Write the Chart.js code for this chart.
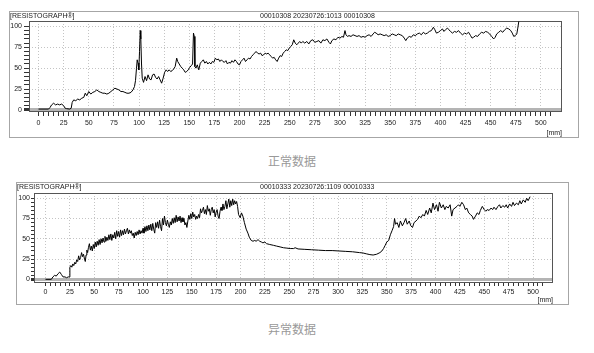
<!DOCTYPE html>
<html>
<head>
<meta charset="utf-8">
<script src="https://cdn.jsdelivr.net/npm/chart.js@4/dist/chart.umd.min.js"></script>
<style>
body { margin: 0; width: 594px; height: 353px; background: #fff; position: relative; overflow: hidden; font-family: "Liberation Sans", Arial, sans-serif; }
.frame { position: absolute; border: 1px solid #a6a6a6; box-sizing: border-box; }
.frame canvas { position: absolute; left: 0; top: 0; }
.hd { position: absolute; top: 0; font-size: 7px; line-height: 8px; color: #222; white-space: nowrap; }
.cap { position: absolute; left: 242px; width: 100px; text-align: center; font: 12px/14px "Noto Sans CJK SC", sans-serif; color: #999; }
</style>
</head>
<body>
<div class="frame" style="left:9px;top:11px;width:570px;height:127px">
  <canvas id="normal" width="568" height="125"></canvas>
  <span class="hd" style="left:0">[RESISTOGRAPH®]</span>
  <span class="hd" style="left:250px">00010308 20230726:1013 00010308</span>
</div>
<div class="cap" style="top:154px">正常数据</div>
<div class="frame" style="left:16px;top:182px;width:553px;height:123px">
  <canvas id="abnormal" width="551" height="121"></canvas>
  <span class="hd" style="left:0">[RESISTOGRAPH®]</span>
  <span class="hd" style="left:243px">00010333 20230726:1109 00010333</span>
</div>
<div class="cap" style="top:322px">异常数据</div>
<script>
// tick labels
const xTickLabels = [0, 25, 50, 75, 100, 125, 150, 175, 200, 225, 250, 275, 300, 325, 350, 375, 400, 425, 450, 475, 500];
const yTickLabels = [0, 25, 50, 75, 100];

// 正常数据 - depth [mm] / amplitude [%]
const normalDepth = [
  0, 10, 11.5, 13, 15, 17, 19, 21, 23, 25, 26.5, 28, 31, 32.5, 33.5, 35, 37, 39, 41, 43,
  45, 46.5, 48, 50, 52, 54, 56, 58, 60, 62, 64, 66, 68, 70, 72, 74, 76, 78, 80, 82,
  84, 86, 88, 90, 92, 94, 95.5, 96.5, 97.5, 98.2, 99, 99.8, 100.5, 101.2, 101.8, 102.5, 103.2, 104.5, 106, 107.5,
  109, 110.5, 112, 113.5, 115, 116.5, 118, 119.5, 121, 122.5, 124, 125.5, 127, 128.5, 130, 131.5, 133, 134.5, 136, 137.5,
  138.5, 140, 141.5, 143, 144.5, 146, 147.5, 149, 150.5, 152, 153.3, 154.2, 155, 155.6, 156.7, 158, 159.5, 161, 162.5, 164,
  165.5, 167, 168.5, 170, 171.5, 173, 174.5, 176, 177.5, 179, 180.5, 182, 183.5, 185, 186.5, 188, 189.5, 191, 192.5, 194,
  195.5, 197, 198.5, 200, 201.5, 203, 204.5, 206, 207.5, 209, 210.5, 212, 213.5, 215, 216.5, 218, 219.5, 221, 222.5, 224,
  225.5, 227, 228.5, 230, 231.5, 233, 234.5, 236, 237.5, 239, 240.5, 242, 243.5, 245, 246.5, 248, 249.5, 251, 252.5, 254,
  255.5, 257, 258.5, 260, 261.5, 263, 265, 267, 269, 271, 273, 275, 277, 279, 281, 283, 285, 287, 289, 290.5,
  292, 294, 296, 298, 300, 302, 303.5, 305, 306, 307.5, 309, 311, 313, 315, 317, 319, 321, 323, 325, 327,
  329, 331, 333, 334.5, 336, 338, 340, 342, 344, 346, 348, 350, 352, 354, 356, 358, 360, 362, 364, 365.5,
  367, 369, 371, 373, 375, 377, 379, 381, 383, 385, 387, 389, 391, 393, 394.5, 396, 398, 400, 402, 403.5,
  405, 407, 408.5, 410, 412, 414, 416, 418, 420, 422, 424, 426, 428, 430, 431.5, 433, 435, 437, 439, 441,
  443, 445, 447, 449, 451, 453, 454.5, 456, 458, 460, 462, 464, 466, 468, 470, 471.5, 473, 474.5, 476, 477, 478
];
const normalValue = [
  1, 1, 3, 6, 8, 6, 7, 6, 7, 5, 2, 1.5, 1, 2, 9, 12, 11, 13, 12, 14,
  15, 20, 17, 22, 19, 21, 22, 24, 22, 21, 20, 20, 19, 20, 22, 24, 26, 25, 24, 22,
  22, 21, 20, 20, 21, 24, 28, 35, 50, 60, 56, 48, 70, 95, 85, 55, 38, 33, 40, 35,
  42, 37, 36, 42, 43, 39, 37, 40, 36, 32, 38, 45, 48, 46, 48, 46, 47, 49, 52, 62,
  58, 55, 52, 50, 48, 45, 46, 48, 51, 53, 55, 92, 88, 52, 50, 54, 48, 56, 58, 60,
  56, 58, 55, 57, 55, 58, 57, 62, 60, 61, 58, 60, 58, 57, 59, 55, 57, 56, 59, 57,
  60, 58, 55, 54, 58, 60, 62, 58, 60, 62, 61, 64, 66, 68, 70, 68, 67, 68, 65, 66,
  68, 67, 68, 66, 64, 62, 63, 60, 58, 62, 65, 64, 68, 70, 72, 71, 74, 76, 78, 84,
  80, 78, 80, 82, 80, 82, 80, 82, 79, 83, 84, 81, 82, 83, 80, 84, 83, 85, 81, 79,
  83, 85, 84, 87, 86, 88, 87, 95, 90, 88, 89, 88, 90, 89, 88, 89, 87, 88, 87, 89,
  90, 88, 91, 93, 92, 90, 91, 90, 89, 90, 88, 89, 91, 90, 89, 91, 90, 89, 86, 83,
  86, 88, 87, 90, 89, 91, 92, 90, 93, 91, 92, 94, 95, 99, 96, 92, 93, 95, 97, 94,
  96, 98, 96, 94, 92, 94, 93, 95, 92, 90, 92, 91, 93, 89, 86, 87, 89, 88, 91, 93,
  92, 94, 93, 91, 88, 85, 87, 91, 93, 95, 93, 96, 98, 97, 95, 92, 88, 89, 91, 98, 106
];

// 异常数据 - depth [mm] / amplitude [%]
const abnormalDepth = [
  0, 6, 7.6, 9.4, 11, 12.9, 14.6, 16.3, 18, 20, 21.6, 23.3, 24.3,
  25, 26, 27, 28, 29, 30, 31, 32, 33, 34, 35, 36, 37, 38, 39, 40, 40.8, 41.6, 42.4, 43.2,
  44, 45, 46, 47, 48, 49, 50, 51, 52, 53, 54, 55, 56, 57, 58, 59, 60, 61, 62, 63,
  64, 65, 66, 67, 68, 69, 70, 71, 72, 73, 74, 75, 76, 77, 78, 79, 80, 81, 82, 83,
  84, 85, 86, 87, 88, 89, 90, 91, 92, 93, 94, 95, 96, 97, 98, 99, 100, 101, 102, 103,
  104, 105, 106, 107, 108, 109, 110, 111, 112, 113, 114, 115, 116, 117, 118, 119, 120, 121, 122, 123,
  124, 125, 126, 127, 128, 129, 130, 131, 132, 133, 134, 135, 136, 137, 138, 139, 140, 141, 142, 143,
  144, 145, 146, 147, 148, 149, 150, 151, 152, 153, 154, 155, 156, 157, 158, 159, 160, 161, 162, 163,
  164, 165, 166, 167, 168, 169, 170, 171, 172, 173, 174, 175, 176, 177, 178, 179, 180, 181, 182, 183,
  184, 185, 186, 187, 188, 189, 190, 191, 192, 193, 194, 195, 196, 197,
  198, 199.7, 201, 202.4, 204, 205.8,
  207.6, 209, 211, 212.8, 214.6, 216, 218, 219.7, 221.5, 223, 225, 226.7, 230, 233.7, 237, 240.6, 244, 247.6, 251, 254.5,
  256, 259, 266, 273, 280, 287, 294, 301, 308, 315, 322, 325.7, 329, 332.7, 336, 339.7, 343, 345, 346.7, 348.4,
  350, 352, 353.7, 355.4, 357, 358, 359, 360.7, 362.4, 364, 366, 367.7, 369.4, 371, 373, 374.7, 376.4, 378, 380, 381.6,
  383.4, 385, 387, 388.6, 390.4, 392, 394, 395.6, 397.4, 399, 401, 402.6, 404, 406, 407.9, 409.6, 411, 413, 415, 416.6,
  418, 420, 422, 423.6, 425, 427, 428.8, 430.6, 432, 434, 435.8, 437.6, 439, 441, 442.8, 444.6, 446, 448, 450, 451.6,
  453, 455, 457, 458.6, 460, 462, 464, 465.6, 467, 469, 471, 472.5, 474, 476, 478, 479.5, 481, 483, 485, 486.5,
  488, 490, 492, 493.5, 495, 497
];
const abnormalValue = [
  0, 0, 3, 5, 4, 7, 9, 6, 3, 3, 2, 3, 3,
  15, 17, 15, 19, 17, 21, 19, 24, 22, 29, 24, 27, 33, 28, 31, 25, 22, 30, 36, 33,
  39, 44, 36, 41, 35, 43, 38, 46, 40, 47, 42, 49, 43, 50, 45, 51, 46, 53, 47, 52,
  48, 55, 49, 56, 48, 55, 51, 58, 50, 60, 53, 59, 52, 61, 54, 60, 55, 62, 56, 60,
  63, 56, 61, 57, 60, 54, 57, 51, 58, 54, 59, 55, 61, 56, 60, 57, 63, 57, 65, 59,
  66, 60, 67, 61, 68, 60, 69, 62, 57, 70, 64, 71, 63, 73, 65, 60, 75, 67, 78, 70,
  66, 73, 68, 64, 71, 67, 75, 69, 76, 70, 79, 71, 77, 72, 78, 70, 76, 71, 75, 67,
  70, 64, 72, 79, 74, 81, 75, 83, 77, 80, 74, 78, 75, 80, 76, 87, 82, 85, 89, 81,
  86, 80, 91, 84, 87, 79, 86, 89, 82, 86, 77, 83, 86, 78, 75, 84, 89, 85, 93, 86,
  90, 97, 87, 93, 99, 89, 97, 91, 99, 92, 97, 93, 96, 90,
  80, 76, 82, 78, 70, 62,
  57, 52, 48, 47, 48, 47, 49, 47, 46, 45, 46, 44, 43, 42, 41, 40, 39, 38.5, 38, 38,
  39, 37.5, 37, 36.5, 36, 35.5, 35.5, 35, 34.5, 34, 33, 32.5, 31.5, 30.5, 30, 31, 33, 35, 38, 42,
  46, 48, 55, 60, 65, 75, 68, 70, 64, 72, 66, 70, 75, 68, 72, 66, 64, 70, 72, 74,
  78, 76, 80, 78, 85, 80, 88, 82, 94, 86, 92, 84, 95, 88, 92, 86, 90, 88, 92, 78,
  86, 88, 90, 92, 90, 95, 92, 86, 88, 82, 80, 78, 74, 78, 82, 80, 85, 90, 86, 84,
  86, 85, 88, 86, 89, 86, 90, 92, 88, 91, 89, 92, 88, 93, 90, 95, 91, 94, 92, 97,
  93, 98, 95, 100, 97, 102
];

function isLabel(list, v) {
  return list.includes(Math.round(v));
}

function drawResistograph(canvas, depth, value, o) {
  const points = depth.map((d, i) => ({ x: d, y: value[i] }));
  const tickFont = { family: 'Liberation Sans', size: 7 };

  // dark frame round the plot area
  const boxPlugin = {
    id: 'plotBox',
    beforeDatasetsDraw(chart) {
      const a = chart.chartArea, c = chart.ctx;
      c.save();
      c.strokeStyle = '#555';
      c.lineWidth = 1;
      c.strokeRect(Math.round(a.left) + 0.5, Math.round(a.top) + 0.5,
        Math.round(a.right - a.left) - 1, Math.round(a.bottom - a.top) - 1);
      c.restore();
    }
  };

  return new Chart(canvas.getContext('2d'), {
    type: 'line',
    data: {
      datasets: [{
        data: points,
        borderColor: '#000',
        borderWidth: 1,
        pointRadius: 0,
        tension: 0,
        fill: false
      }]
    },
    options: {
      responsive: false,
      animation: false,
      devicePixelRatio: 1,
      layout: { padding: { left: 0, right: o.padRight, top: o.padTop, bottom: 0 } },
      plugins: { legend: { display: false }, tooltip: { enabled: false } },
      scales: {
        x: {
          type: 'linear',
          min: o.xMin,
          max: o.xMax,
          afterFit: s => { s.height = o.axisH; },
          border: { display: false, dash: [1, 2] },
          grid: {
            color: ctx => ctx.tick && isLabel(xTickLabels, ctx.tick.value) ? '#c4c4c4' : 'rgba(0,0,0,0)',
            lineWidth: 1,
            tickLength: o.tickLen,
            tickColor: ctx => ctx.tick && ctx.tick.value >= 0 && ctx.tick.value <= 510 ? '#333' : 'rgba(0,0,0,0)'
          },
          ticks: {
            stepSize: 5,
            autoSkip: false,
            maxRotation: 0,
            minRotation: 0,
            includeBounds: false,
            padding: o.tickPad,
            color: '#222',
            font: tickFont,
            callback: v => isLabel(xTickLabels, v) ? String(Math.round(v)) : ''
          },
          title: {
            display: true,
            text: '[mm]',
            align: 'end',
            color: '#222',
            font: tickFont,
            padding: { top: 0, bottom: 0 }
          }
        },
        y: {
          min: o.yMin,
          max: o.yMax,
          afterFit: s => { s.width = o.axisW; },
          border: { display: false, dash: ctx => ctx.tick && Math.round(ctx.tick.value) === 0 ? [] : [1, 2] },
          grid: {
            color: ctx => {
              if (!ctx.tick) return 'rgba(0,0,0,0)';
              const v = Math.round(ctx.tick.value);
              if (v === 0) return '#b4b4b4';
              return isLabel(yTickLabels, v) ? '#c4c4c4' : 'rgba(0,0,0,0)';
            },
            lineWidth: ctx => ctx.tick && Math.round(ctx.tick.value) === 0 ? 3 : 1,
            tickLength: o.yTickLen,
            tickColor: ctx => ctx.tick && ctx.tick.value >= 0 && ctx.tick.value <= 100 ? '#333' : 'rgba(0,0,0,0)'
          },
          ticks: {
            stepSize: 5,
            autoSkip: false,
            includeBounds: false,
            padding: o.yTickPad,
            color: '#222',
            font: tickFont,
            callback: v => isLabel(yTickLabels, v) ? String(Math.round(v)) : ''
          }
        }
      }
    },
    plugins: [boxPlugin]
  });
}

drawResistograph(document.getElementById('normal'), normalDepth, normalValue, {
  xMin: -9.5, xMax: 521, yMin: -2.5, yMax: 106.5,
  axisW: 19, axisH: 25, padRight: 16, padTop: 9, tickLen: 4, tickPad: 3, yTickLen: 5, yTickPad: 2
});
drawResistograph(document.getElementById('abnormal'), abnormalDepth, abnormalValue, {
  xMin: -11.8, xMax: 520.5, yMin: -4.5, yMax: 106.5,
  axisW: 17, axisH: 21, padRight: 15, padTop: 10, tickLen: 3, tickPad: 2, yTickLen: 3, yTickPad: 1
});
</script>
</body>
</html>
